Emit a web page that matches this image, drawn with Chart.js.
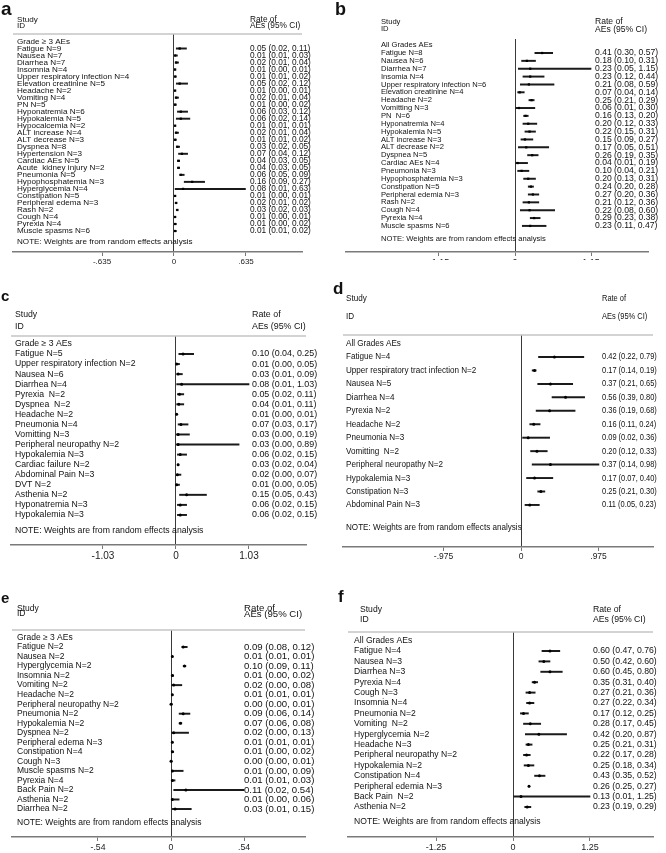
<!DOCTYPE html>
<html>
<head>
<meta charset="utf-8">
<script src="https://cdn.jsdelivr.net/npm/chart.js@4.4.0/dist/chart.umd.min.js"></script>
<style>
  html, body { margin: 0; padding: 0; background: #fff; }
  #page { position: relative; width: 666px; height: 853px; overflow: hidden; background: #fff; }
  .panel { position: absolute; overflow: hidden; }
  .panel canvas { display: block; }
</style>
</head>
<body>
<div id="page"></div>
<script>
// ---- panel a: grade >= 3 ----
const aLabels = ['Fatigue N=9', 'Nausea N=7', 'Diarrhea N=7', 'Insomnia N=4', 'Upper respiratory infection N=4',
  'Elevation creatinine N=5', 'Headache N=2', 'Vomiting N=4', 'PN N=5', 'Hyponatremia N=6', 'Hypokalemia N=5',
  'Hypocalcemia N=2', 'ALT increase N=4', 'ALT decrease N=3', 'Dyspnea N=8', 'Hypertension N=3', 'Cardiac AEs N=5',
  'Acute  kidney injury N=2', 'Pneumonia N=5', 'Hypophosphatemia N=3', 'Hyperglycemia N=4', 'Constipation N=5',
  'Peripheral edema N=3', 'Rash N=2', 'Cough N=4', 'Pyrexia N=4', 'Muscle spasms N=6'];
const aEst  = [0.05, 0.01, 0.02, 0.01, 0.01, 0.05, 0.01, 0.02, 0.01, 0.06, 0.06, 0.01, 0.02, 0.01, 0.03, 0.07, 0.04, 0.04, 0.06, 0.16, 0.08, 0.01, 0.02, 0.03, 0.01, 0.01, 0.01];
const aLow  = [0.02, 0.01, 0.01, 0.00, 0.01, 0.02, 0.00, 0.01, 0.00, 0.03, 0.02, 0.01, 0.01, 0.01, 0.02, 0.04, 0.03, 0.03, 0.05, 0.09, 0.01, 0.00, 0.01, 0.02, 0.00, 0.00, 0.01];
const aHigh = [0.11, 0.03, 0.04, 0.01, 0.02, 0.12, 0.01, 0.04, 0.02, 0.12, 0.14, 0.01, 0.04, 0.02, 0.05, 0.12, 0.05, 0.05, 0.09, 0.27, 0.63, 0.01, 0.02, 0.03, 0.01, 0.02, 0.02];
const aTicks = [-0.635, 0, 0.635];
const aTickLabels = ['-.635', '0', '.635'];

// ---- panel b: all grades ----
const bLabels = ['Fatigue N=8', 'Nausea N=6', 'Diarrhea N=7', 'Insomia N=4', 'Upper respiratory infection N=6',
  'Elevation creatinine N=4', 'Headache N=2', 'Vomitting N=3', 'PN  N=6', 'Hyponatremia N=4', 'Hypokalemia N=5',
  'ALT increase N=3', 'ALT decrease N=2', 'Dyspnea N=5', 'Cardiac AEs N=4', 'Pneumonia N=3', 'Hypophosphatemia N=3',
  'Constipation N=5', 'Peripheral edemia N=3', 'Rash N=2', 'Cough N=4', 'Pyrexia N=4', 'Muscle spasms N=6'];
const bEst  = [0.41, 0.18, 0.23, 0.23, 0.21, 0.07, 0.25, 0.06, 0.16, 0.20, 0.22, 0.15, 0.17, 0.26, 0.04, 0.10, 0.20, 0.24, 0.27, 0.21, 0.22, 0.29, 0.23];
const bLow  = [0.30, 0.10, 0.05, 0.12, 0.08, 0.04, 0.21, 0.01, 0.13, 0.12, 0.15, 0.09, 0.05, 0.19, 0.01, 0.04, 0.13, 0.20, 0.20, 0.12, 0.08, 0.23, 0.11];
const bHigh = [0.57, 0.31, 1.15, 0.44, 0.59, 0.14, 0.29, 0.30, 0.20, 0.33, 0.31, 0.27, 0.51, 0.35, 0.19, 0.21, 0.31, 0.28, 0.36, 0.36, 0.60, 0.38, 0.47];
const bTicks = [-1.15, 0, 1.15];
const bTickLabels = ['-1.15', '0', '1.15'];

// ---- panel c: grade >= 3 ----
const cLabels = ['Fatigue N=5', 'Upper respiratory infection N=2', 'Nausea N=6', 'Diarrhea N=4', 'Pyrexia  N=2',
  'Dyspnea  N=2', 'Headache N=2', 'Pneumonia N=4', 'Vomitting N=3', 'Peripheral neuropathy N=2', 'Hypokalemia N=3',
  'Cardiac failure N=2', 'Abdominal Pain N=3', 'DVT N=2', 'Asthenia N=2', 'Hyponatremia N=3', 'Hypokalemia N=3'];
const cEst  = [0.10, 0.01, 0.03, 0.08, 0.05, 0.04, 0.01, 0.07, 0.03, 0.03, 0.06, 0.03, 0.02, 0.01, 0.15, 0.06, 0.06];
const cLow  = [0.04, 0.00, 0.01, 0.01, 0.02, 0.01, 0.00, 0.03, 0.00, 0.00, 0.02, 0.02, 0.00, 0.00, 0.05, 0.02, 0.02];
const cHigh = [0.25, 0.05, 0.09, 1.03, 0.11, 0.11, 0.01, 0.17, 0.19, 0.89, 0.15, 0.04, 0.07, 0.05, 0.43, 0.15, 0.15];
const cTicks = [-1.03, 0, 1.03];
const cTickLabels = ['-1.03', '0', '1.03'];

// ---- panel d: all grades ----
const dLabels = ['Fatigue N=4', 'Upper respiratory tract infection N=2', 'Nausea N=5', 'Diarrhea N=4', 'Pyrexia N=2',
  'Headache N=2', 'Pneumonia N=3', 'Vomitting  N=2', 'Peripheral neuropathy N=2', 'Hypokalemia N=3',
  'Constipation N=3', 'Abdominal Pain N=3'];
const dEst  = [0.42, 0.17, 0.37, 0.56, 0.36, 0.16, 0.09, 0.20, 0.37, 0.17, 0.25, 0.11];
const dLow  = [0.22, 0.14, 0.21, 0.39, 0.19, 0.11, 0.02, 0.12, 0.14, 0.07, 0.21, 0.05];
const dHigh = [0.79, 0.19, 0.65, 0.80, 0.68, 0.24, 0.36, 0.33, 0.98, 0.40, 0.30, 0.23];
const dTicks = [-0.975, 0, 0.975];
const dTickLabels = ['-.975', '0', '.975'];

// ---- panel e: grade >= 3 ----
const eLabels = ['Fatigue N=2', 'Nausea N=2', 'Hyperglycemia N=2', 'Insomnia N=2', 'Vomiting N=2', 'Headache N=2',
  'Peripheral neuropathy N=2', 'Pneumonia N=2', 'Hypokalemia N=2', 'Dyspnea N=2', 'Peripheral edema N=3',
  'Constipation N=4', 'Cough N=3', 'Muscle spasms N=2', 'Pyrexia N=4', 'Back Pain N=2', 'Asthenia N=2', 'Diarrhea N=2'];
const eEst  = [0.09, 0.01, 0.10, 0.01, 0.02, 0.01, 0.00, 0.09, 0.07, 0.02, 0.01, 0.01, 0.00, 0.01, 0.01, 0.11, 0.01, 0.03];
const eLow  = [0.08, 0.01, 0.09, 0.00, 0.00, 0.01, 0.00, 0.06, 0.06, 0.00, 0.01, 0.00, 0.00, 0.00, 0.01, 0.02, 0.00, 0.01];
const eHigh = [0.12, 0.01, 0.11, 0.02, 0.08, 0.01, 0.01, 0.14, 0.08, 0.13, 0.01, 0.02, 0.01, 0.09, 0.03, 0.54, 0.06, 0.15];
const eTicks = [-0.54, 0, 0.54];
const eTickLabels = ['-.54', '0', '.54'];

// ---- panel f: all grades ----
const fLabels = ['Fatigue N=4', 'Nausea N=3', 'Diarrhea N=3', 'Pyrexia N=4', 'Cough N=3', 'Insomnia N=4',
  'Pneumonia N=2', 'Vomiting  N=2', 'Hyperglycemia N=2', 'Headache N=3', 'Peripheral neuropathy N=2',
  'Hypokalemia N=2', 'Constipation N=4', 'Peripheral edemia N=3', 'Back Pain  N=2', 'Asthenia N=2'];
const fEst  = [0.60, 0.50, 0.60, 0.35, 0.27, 0.27, 0.17, 0.28, 0.42, 0.25, 0.22, 0.25, 0.43, 0.26, 0.13, 0.23];
const fLow  = [0.47, 0.42, 0.45, 0.31, 0.21, 0.22, 0.12, 0.17, 0.20, 0.21, 0.17, 0.18, 0.35, 0.25, 0.01, 0.19];
const fHigh = [0.76, 0.60, 0.80, 0.40, 0.36, 0.34, 0.25, 0.45, 0.87, 0.31, 0.28, 0.34, 0.52, 0.27, 1.25, 0.29];
const fTicks = [-1.25, 0, 1.25];
const fTickLabels = ['-1.25', '0', '1.25'];

const GRADE3 = 'Grade \u2265 3 AEs';
const ALLGRADES = 'All Grades AEs';
const NOTE = 'NOTE: Weights are from random effects analysis';
const FAMILY = '"Liberation Sans", Arial, Helvetica, sans-serif';
const AXIS_H = 14;

// layout, page coordinates in px
const panels = [
  {
    letter: { text: 'a', x: 1, y: 15, size: 19 },
    heading: GRADE3, labels: aLabels, est: aEst, low: aLow, high: aHigh, ticks: aTicks, tickLabels: aTickLabels,
    box: { x: 0, y: 0, w: 333, h: 280, clip: 280 },
    plot: { left: 13, right: 302, top: 34, bottom: 252, xMin: -1.42, xMax: 1.129 },
    rows: { first: 48.5, gap: 7.02 }, headerLine: true,
    textX: 17, ciX: 250, studyY: 19.5, idY: 25.7, noteY: 242,
    labelFont: { size: 8.1 }, ciFont: { size: 8.3 }, tickSize: 8, marker: 'rect', markerSize: 1.6,
  },
  {
    letter: { text: 'b', x: 335, y: 15, size: 18 },
    heading: ALLGRADES, labels: bLabels, est: bEst, low: bLow, high: bHigh, ticks: bTicks, tickLabels: bTickLabels,
    box: { x: 333, y: 0, w: 333, h: 280, clip: 260 },
    plot: { left: 346, right: 648, top: 39, bottom: 252, xMin: -2.557, xMax: 2.012 },
    rows: { first: 53, gap: 7.86 }, headerLine: false,
    textX: 381, ciX: 595, studyY: 21.7, idY: 29.3, noteY: 239,
    labelFont: { size: 7.6 }, ciFont: { size: 8.6 }, tickSize: 9, marker: 'rect', markerSize: 1.6,
  },
  {
    letter: { text: 'c', x: 1, y: 301, size: 15 },
    heading: GRADE3, labels: cLabels, est: cEst, low: cLow, high: cHigh, ticks: cTicks, tickLabels: cTickLabels,
    box: { x: 0, y: 280, w: 333, h: 290, clip: 290 },
    plot: { left: 11, right: 306, top: 336, bottom: 545, xMin: -2.327, xMax: 1.834 },
    rows: { first: 354, gap: 10.06 }, headerLine: true,
    textX: 15, ciX: 252, studyY: 315, idY: 327, noteY: 531,
    labelFont: { size: 8.7 }, ciFont: { size: 8.9 }, tickSize: 10, marker: 'circle', markerSize: 1.5,
  },
  {
    letter: { text: 'd', x: 333, y: 294, size: 17 },
    heading: ALLGRADES, labels: dLabels, est: dEst, low: dLow, high: dHigh, ticks: dTicks, tickLabels: dTickLabels,
    box: { x: 333, y: 280, w: 333, h: 290, clip: 290 },
    plot: { left: 343, right: 653, top: 335, bottom: 547, xMin: -2.239, xMax: 1.660 },
    rows: { first: 357, gap: 13.45 }, headerLine: true,
    textX: 346, ciX: 602, studyY: 299, idY: 317, noteY: 528,
    labelFont: { size: 9, sx: 0.9 }, ciFont: { size: 9, sx: 0.83 }, tickSize: 8.5, marker: 'circle', markerSize: 1.5,
  },
  {
    letter: { text: 'e', x: 1, y: 602.5, size: 15 },
    heading: GRADE3, labels: eLabels, est: eEst, low: eLow, high: eHigh, ticks: eTicks, tickLabels: eTickLabels,
    box: { x: 0, y: 570, w: 333, h: 283, clip: 283 },
    plot: { left: 12, right: 305, top: 630, bottom: 837, xMin: -1.176, xMax: 0.991 },
    rows: { first: 647, gap: 9.53 }, headerLine: true,
    textX: 17, ciX: 244, studyY: 608.5, idY: 614, noteY: 823,
    labelFont: { size: 8.5 }, ciFont: { size: 9.6 }, tickSize: 8.7, marker: 'circle', markerSize: 1.5,
  },
  {
    letter: { text: 'f', x: 338, y: 602, size: 17 },
    heading: ALLGRADES, labels: fLabels, est: fEst, low: fLow, high: fHigh, ticks: fTicks, tickLabels: fTickLabels,
    box: { x: 333, y: 570, w: 333, h: 283, clip: 283 },
    plot: { left: 348, right: 653, top: 632, bottom: 837, xMin: -2.679, xMax: 2.273 },
    rows: { first: 651, gap: 10.4 }, headerLine: true,
    textX: 354, headX: 360, ciX: 593, studyY: 610, idY: 620, noteY: 822,
    labelFont: { size: 8.6 }, ciFont: { size: 8.7 }, tickSize: 9, marker: 'circle', markerSize: 1.5,
  },
];

function putText(ctx, str, x, y, f, weight) {
  ctx.save();
  ctx.translate(x, y);
  ctx.scale(f.sx || 1, f.sy || 1);
  ctx.font = (weight || 'normal') + ' ' + f.size + 'px ' + FAMILY;
  ctx.fillText(str, 0, 0);
  ctx.restore();
}

const ciText = (p, i) => `${p.est[i].toFixed(2)} (${p.low[i].toFixed(2)}, ${p.high[i].toFixed(2)})`;

const forestText = {
  id: 'forestText',
  beforeDatasetsDraw(chart, args, opts) {
    const p = opts.panel;
    if (!p || !p.headerLine) return;
    const ctx = chart.ctx;
    const area = chart.chartArea;
    ctx.save();
    ctx.strokeStyle = '#c4c4c4';
    ctx.lineWidth = 1.5;
    ctx.beginPath();
    ctx.moveTo(area.left, area.top);
    ctx.lineTo(area.right, area.top);
    ctx.stroke();
    ctx.restore();
  },
  afterDraw(chart, args, opts) {
    const p = opts.panel;
    if (!p) return;
    const ctx = chart.ctx;
    const y = chart.scales.y;
    const ox = p.box.x;
    const oy = p.box.y;
    ctx.save();
    ctx.fillStyle = '#111';

    ctx.textBaseline = 'alphabetic';
    putText(ctx, p.letter.text, p.letter.x - ox, p.letter.y - oy, { size: p.letter.size }, 'bold');

    ctx.textBaseline = 'middle';
    const headX = (p.headX || p.textX) - ox;
    putText(ctx, 'Study', headX, p.studyY - oy, p.labelFont);
    putText(ctx, 'ID', headX, p.idY - oy, p.labelFont);
    putText(ctx, 'Rate of', p.ciX - ox, p.studyY - oy, p.ciFont);
    putText(ctx, 'AEs (95% CI)', p.ciX - ox, p.idY - oy, p.ciFont);

    putText(ctx, p.heading, p.textX - ox, y.getPixelForValue(0), p.labelFont);
    p.labels.forEach((label, i) => {
      const py = y.getPixelForValue(i + 1);
      putText(ctx, label, p.textX - ox, py, p.labelFont);
      putText(ctx, ciText(p, i), p.ciX - ox, py, p.ciFont);
    });
    putText(ctx, NOTE, p.textX - ox, p.noteY - oy, p.labelFont);
    ctx.restore();
  },
};

const page = document.getElementById('page');

function buildChart(p) {
  const wrap = document.createElement('div');
  wrap.className = 'panel';
  wrap.style.left = p.box.x + 'px';
  wrap.style.top = p.box.y + 'px';
  wrap.style.width = p.box.w + 'px';
  wrap.style.height = p.box.clip + 'px';
  const canvas = document.createElement('canvas');
  canvas.width = p.box.w;
  canvas.height = p.box.h;
  canvas.style.width = p.box.w + 'px';
  canvas.style.height = p.box.h + 'px';
  wrap.appendChild(canvas);
  page.appendChild(wrap);

  const rows = p.labels.map((_, i) => i + 1);
  const gap = p.rows.gap;
  const yMin = 1 - (p.rows.first - p.plot.top) / gap;
  const yMax = yMin + (p.plot.bottom - p.plot.top) / gap;

  return new Chart(canvas, {
    type: 'scatter',
    data: {
      datasets: [
        {
          type: 'bar',
          indexAxis: 'y',
          data: rows.map((r, i) => ({ x: [p.low[i], p.high[i]], y: r })),
          backgroundColor: '#1a1a1a',
          barThickness: 1.3,
          borderWidth: 0,
          borderSkipped: false,
          order: 2,
        },
        {
          type: 'scatter',
          data: rows.map((r, i) => ({ x: p.est[i], y: r })),
          pointStyle: p.marker,
          pointRadius: p.markerSize,
          backgroundColor: '#000',
          borderColor: '#000',
          borderWidth: 0,
          order: 1,
        },
      ],
    },
    options: {
      responsive: false,
      animation: false,
      events: [],
      layout: {
        padding: {
          left: p.plot.left - p.box.x,
          right: p.box.x + p.box.w - p.plot.right,
          top: p.plot.top - p.box.y,
          bottom: p.box.y + p.box.h - p.plot.bottom - AXIS_H,
        },
      },
      plugins: {
        legend: { display: false },
        tooltip: { enabled: false },
        forestText: { panel: p },
      },
      scales: {
        x: {
          type: 'linear',
          min: p.plot.xMin,
          max: p.plot.xMax,
          offset: false,
          afterBuildTicks: (s) => { s.ticks = p.ticks.map((v) => ({ value: v })); },
          afterFit: (s) => { s.height = AXIS_H; },
          grid: {
            offset: false,
            drawOnChartArea: true,
            color: (c) => (c.tick && c.tick.value === 0 ? '#3a3a3a' : 'rgba(0,0,0,0)'),
            tickColor: '#777',
            tickLength: 4,
            lineWidth: 1,
          },
          border: { display: true, color: '#7a7a7a', width: 1.5 },
          ticks: {
            autoSkip: false,
            maxRotation: 0,
            padding: 1,
            color: '#222',
            font: { family: FAMILY, size: p.tickSize },
            callback: (v, i) => p.tickLabels[i],
          },
        },
        y: {
          type: 'linear',
          display: false,
          reverse: true,
          offset: false,
          grid: { offset: false },
          min: yMin,
          max: yMax,
        },
      },
    },
    plugins: [forestText],
  });
}

panels.forEach(buildChart);
</script>
</body>
</html>
